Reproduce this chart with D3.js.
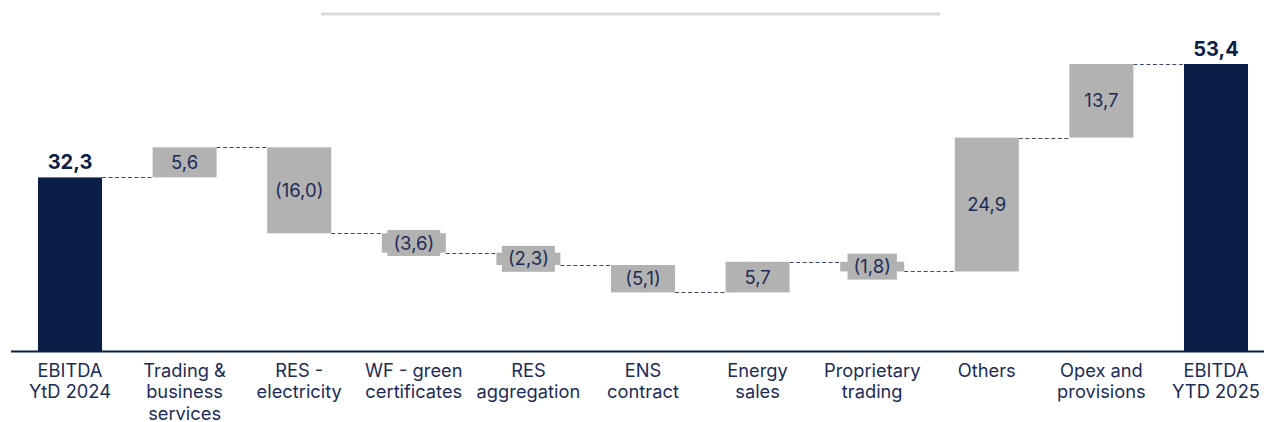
<!DOCTYPE html>
<html><head><meta charset="utf-8">
<script src="https://cdn.jsdelivr.net/npm/d3@7"></script>
<style>body{margin:0;background:#fff}svg{display:block}</style>
</head><body>
<svg id="c" width="1264" height="422"></svg>
<script>
const categories = [
  ["EBITDA","YtD 2024"],
  ["Trading &","business","services"],
  ["RES -","electricity"],
  ["WF - green","certificates"],
  ["RES","aggregation"],
  ["ENS","contract"],
  ["Energy","sales"],
  ["Proprietary","trading"],
  ["Others"],
  ["Opex and","provisions"],
  ["EBITDA","YTD 2025"]
];
const values = [32.3, 5.6, -16.0, -3.6, -2.3, -5.1, 5.7, -1.8, 24.9, 13.7, 53.4];
const isTotal = [true, false, false, false, false, false, false, false, false, false, true];
const valueLabels = ["32,3","5,6","(16,0)","(3,6)","(2,3)","(5,1)","5,7","(1,8)","24,9","13,7","53,4"];

const NAVY = "#0a1e47", GRAY = "#b2b2b2", TXT = "#1b2c58";
const FONT = "Inter, 'Noto Sans', sans-serif";
const svg = d3.select("#c");

let run = 0;
const bars = values.map((v, i) => {
  let y0, y1;
  if (isTotal[i]) { y0 = 0; y1 = v; run = v; }
  else { y0 = run; y1 = run + v; run = y1; }
  return {i, v, y0, y1, cat: categories[i], label: valueLabels[i], total: isTotal[i]};
});

const baseY = 351;
const y = d3.scaleLinear().domain([0, 53.4]).range([baseY, 64]);
const x = d3.scaleBand().domain(d3.range(categories.length)).range([12.7, 1273.3]).paddingInner(0.4415).paddingOuter(0.22075);
const bw = x.bandwidth();

svg.append("line").attr("x1", 321).attr("x2", 940).attr("y1", 14).attr("y2", 14)
  .attr("stroke", "#dadada").attr("stroke-width", 3);

for (let k = 0; k < bars.length - 1; k++) {
  const lvl = bars[k].y1;
  svg.append("line")
    .attr("x1", x(k) + bw).attr("x2", x(k + 1))
    .attr("y1", Math.round(y(lvl)) + 0.5).attr("y2", Math.round(y(lvl)) + 0.5)
    .attr("stroke", "#3a4a74").attr("stroke-width", 1).attr("stroke-dasharray", "4,2.5");
}

svg.selectAll("rect.bar").data(bars).enter().append("rect")
  .attr("class", "bar")
  .attr("x", d => x(d.i)).attr("width", bw)
  .attr("y", d => y(Math.max(d.y0, d.y1)))
  .attr("height", d => Math.abs(y(d.y0) - y(d.y1)))
  .attr("fill", d => d.total ? NAVY : GRAY);

svg.append("line").attr("x1", 11).attr("x2", 1264).attr("y1", baseY + 0.5).attr("y2", baseY + 0.5)
  .attr("stroke", NAVY).attr("stroke-width", 2);

bars.forEach(d => {
  const cx = x(d.i) + bw / 2;
  if (d.total) {
    svg.append("text").attr("x", cx).attr("y", y(d.y1) - 8)
      .attr("text-anchor", "middle").attr("font-family", FONT).attr("font-weight", 700)
      .attr("font-size", 20).attr("fill", NAVY).text(d.label);
  } else {
    const cy = (y(d.y0) + y(d.y1)) / 2;
    const h = Math.abs(y(d.y0) - y(d.y1));
    const t = svg.append("text").attr("x", cx).attr("y", cy).attr("dy", "0.36em")
      .attr("text-anchor", "middle").attr("font-family", FONT)
      .attr("font-size", 18.5).attr("fill", TXT).text(d.label);
    if (h < 26) {
      const bb = t.node().getBBox();
      svg.insert("rect", function(){ return t.node(); })
        .attr("x", cx - bb.width / 2 - 6).attr("width", bb.width + 12)
        .attr("y", cy - 13).attr("height", 26).attr("fill", GRAY);
    }
  }
});

bars.forEach(d => {
  const cx = x(d.i) + bw / 2;
  const t = svg.append("text").attr("x", cx).attr("y", 377)
    .attr("text-anchor", "middle").attr("font-family", FONT)
    .attr("font-size", 18.3).attr("fill", TXT);
  d.cat.forEach((line, j) => {
    t.append("tspan").attr("x", cx).attr("y", 377 + j * 21.3).text(line);
  });
});
</script>
</body></html>
